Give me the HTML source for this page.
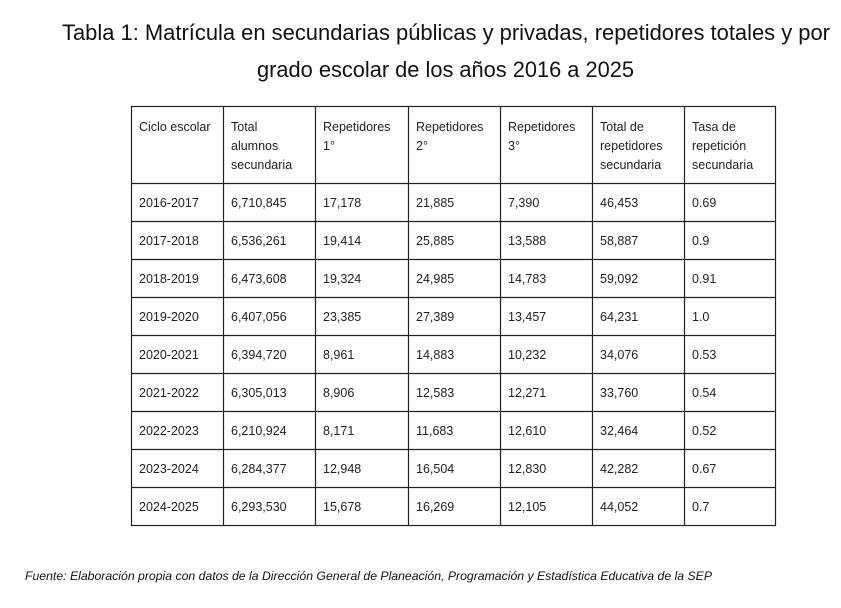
<!DOCTYPE html>
<html><head><meta charset="utf-8"><style>
html,body{margin:0;padding:0;background:#fff;}
svg{display:block;}
</style></head><body>
<svg width="841" height="608" xmlns="http://www.w3.org/2000/svg">
<g font-family="'Liberation Sans', sans-serif" fill="#111">
<text x="62" y="40" font-size="22" textLength="768" lengthAdjust="spacingAndGlyphs">Tabla 1: Matrícula en secundarias públicas y privadas, repetidores totales y por</text>
<text x="257" y="77" font-size="22" textLength="377" lengthAdjust="spacingAndGlyphs">grado escolar de los años 2016 a 2025</text>
<text x="25" y="580" font-size="12" font-style="italic" textLength="687" lengthAdjust="spacingAndGlyphs">Fuente: Elaboración propia con datos de la Dirección General de Planeación, Programación y Estadística Educativa de la SEP</text>
</g>
<g stroke="#222" stroke-width="1.2" fill="none">
<rect x="131.5" y="106.5" width="644" height="419"/>
<line x1="223.5" y1="106" x2="223.5" y2="526"/>
<line x1="315.5" y1="106" x2="315.5" y2="526"/>
<line x1="408.5" y1="106" x2="408.5" y2="526"/>
<line x1="500.5" y1="106" x2="500.5" y2="526"/>
<line x1="592.5" y1="106" x2="592.5" y2="526"/>
<line x1="684.5" y1="106" x2="684.5" y2="526"/>
<line x1="131" y1="183.5" x2="776" y2="183.5"/>
<line x1="131" y1="221.5" x2="776" y2="221.5"/>
<line x1="131" y1="259.5" x2="776" y2="259.5"/>
<line x1="131" y1="297.5" x2="776" y2="297.5"/>
<line x1="131" y1="335.5" x2="776" y2="335.5"/>
<line x1="131" y1="373.5" x2="776" y2="373.5"/>
<line x1="131" y1="411.5" x2="776" y2="411.5"/>
<line x1="131" y1="449.5" x2="776" y2="449.5"/>
<line x1="131" y1="487.5" x2="776" y2="487.5"/>
</g>
<g font-family="'Liberation Sans', sans-serif" font-size="12.5" fill="#222">
<text x="139" y="131">Ciclo escolar</text>
<text x="231" y="131">Total</text><text x="231" y="150">alumnos</text><text x="231" y="169">secundaria</text>
<text x="323" y="131">Repetidores</text><text x="323" y="150">1°</text>
<text x="416" y="131">Repetidores</text><text x="416" y="150">2°</text>
<text x="508" y="131">Repetidores</text><text x="508" y="150">3°</text>
<text x="600" y="131">Total de</text><text x="600" y="150">repetidores</text><text x="600" y="169">secundaria</text>
<text x="692" y="131">Tasa de</text><text x="692" y="150">repetición</text><text x="692" y="169">secundaria</text>
</g>
<g font-family="'Liberation Sans', sans-serif" font-size="12.5" fill="#222">
<g transform="translate(0,207)"><text x="139">2016-2017</text><text x="231">6,710,845</text><text x="323">17,178</text><text x="416">21,885</text><text x="508">7,390</text><text x="600">46,453</text><text x="692">0.69</text></g>
<g transform="translate(0,245)"><text x="139">2017-2018</text><text x="231">6,536,261</text><text x="323">19,414</text><text x="416">25,885</text><text x="508">13,588</text><text x="600">58,887</text><text x="692">0.9</text></g>
<g transform="translate(0,283)"><text x="139">2018-2019</text><text x="231">6,473,608</text><text x="323">19,324</text><text x="416">24,985</text><text x="508">14,783</text><text x="600">59,092</text><text x="692">0.91</text></g>
<g transform="translate(0,321)"><text x="139">2019-2020</text><text x="231">6,407,056</text><text x="323">23,385</text><text x="416">27,389</text><text x="508">13,457</text><text x="600">64,231</text><text x="692">1.0</text></g>
<g transform="translate(0,359)"><text x="139">2020-2021</text><text x="231">6,394,720</text><text x="323">8,961</text><text x="416">14,883</text><text x="508">10,232</text><text x="600">34,076</text><text x="692">0.53</text></g>
<g transform="translate(0,397)"><text x="139">2021-2022</text><text x="231">6,305,013</text><text x="323">8,906</text><text x="416">12,583</text><text x="508">12,271</text><text x="600">33,760</text><text x="692">0.54</text></g>
<g transform="translate(0,435)"><text x="139">2022-2023</text><text x="231">6,210,924</text><text x="323">8,171</text><text x="416">11,683</text><text x="508">12,610</text><text x="600">32,464</text><text x="692">0.52</text></g>
<g transform="translate(0,473)"><text x="139">2023-2024</text><text x="231">6,284,377</text><text x="323">12,948</text><text x="416">16,504</text><text x="508">12,830</text><text x="600">42,282</text><text x="692">0.67</text></g>
<g transform="translate(0,511)"><text x="139">2024-2025</text><text x="231">6,293,530</text><text x="323">15,678</text><text x="416">16,269</text><text x="508">12,105</text><text x="600">44,052</text><text x="692">0.7</text></g>
</g>
</svg>
</body></html>
